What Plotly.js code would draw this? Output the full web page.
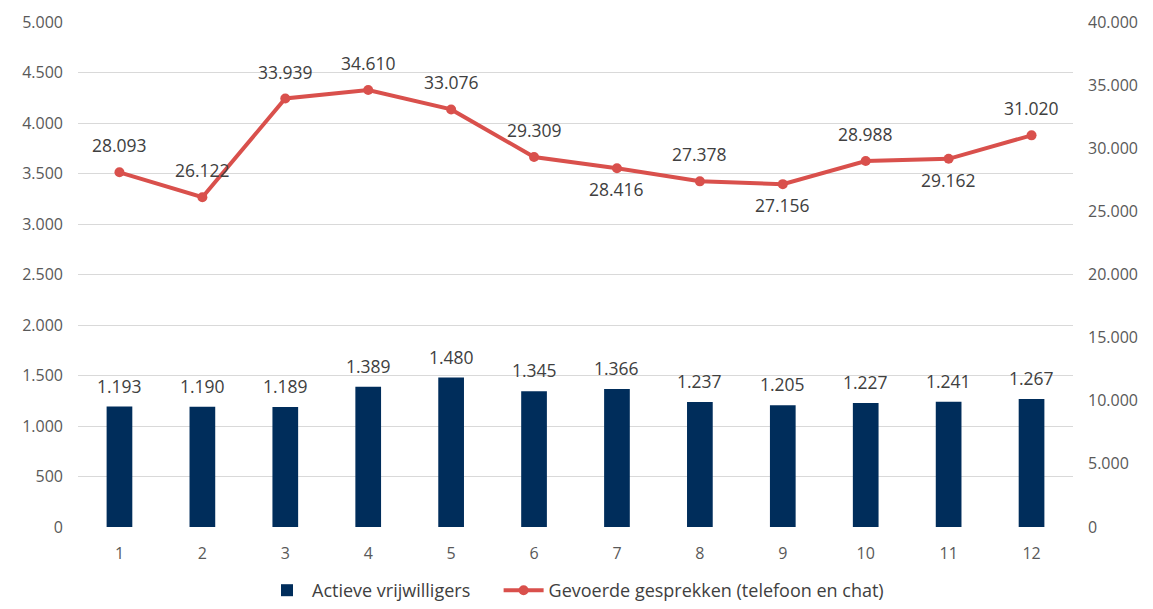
<!DOCTYPE html>
<html>
<head>
<meta charset="utf-8">
<script src="https://cdn.plot.ly/plotly-3.0.1.min.js"></script>
<style>html,body{margin:0;padding:0;background:#fff;}#chart{width:1153px;height:609px;}</style>
</head>
<body>
<div id="chart"></div>
<script>
const categories = ['1','2','3','4','5','6','7','8','9','10','11','12'];
const vrijwilligers = [1193, 1190, 1189, 1389, 1480, 1345, 1366, 1237, 1205, 1227, 1241, 1267];
const gesprekken = [28093, 26122, 33939, 34610, 33076, 29309, 28416, 27378, 27156, 28988, 29162, 31020];
const lineLabelAbove = [true, true, true, true, true, true, false, true, false, true, false, true];

const FONT = 'Open Sans, Noto Sans, sans-serif';
const TXT = '#404040';
const fmt = v => v.toLocaleString('nl-NL');

const traces = [
  {
    type: 'bar', name: 'Actieve vrijwilligers\u00a0\u00a0\u00a0\u00a0\u00a0',
    x: categories, y: vrijwilligers,
    marker: {color: '#002D5B'},
    hoverinfo: 'skip'
  },
  {
    type: 'scatter', mode: 'lines+markers', name: 'Gevoerde gesprekken (telefoon en chat)',
    x: categories, y: gesprekken, yaxis: 'y2',
    line: {color: '#D9504C', width: 4},
    marker: {color: '#D9504C', size: 10},
    cliponaxis: false, hoverinfo: 'skip'
  }
];

// annotations positioned on the category axis by category index
const annotations = [];
categories.forEach((c, i) => {
  annotations.push({x: i, y: vrijwilligers[i], xref: 'x', yref: 'y', text: fmt(vrijwilligers[i]),
    showarrow: false, yanchor: 'middle', yshift: 21,
    font: {family: FONT, size: 17.5, color: TXT}});
  annotations.push({x: i, y: gesprekken[i], xref: 'x', yref: 'y2', text: fmt(gesprekken[i]),
    showarrow: false, yanchor: 'middle', yshift: lineLabelAbove[i] ? 27 : -21,
    font: {family: FONT, size: 17.5, color: TXT}});
});

const layout = {
  width: 1153, height: 609,
  margin: {l: 78, r: 80, t: 22, b: 82, autoexpand: false},
  separators: ',.',
  paper_bgcolor: '#fff', plot_bgcolor: '#fff',
  font: {family: FONT, size: 16, color: '#595959'},
  bargap: 0.69,
  showlegend: true,
  legend: {orientation: 'h', x: 0.5, xanchor: 'center', yref: 'container', y: -0.012, yanchor: 'bottom',
           itemwidth: 40, font: {family: FONT, size: 18, color: TXT}},
  annotations: annotations,
  xaxis: {type: 'category', range: [-0.5, 11.5], showgrid: false, zeroline: false, showline: false, ticks: '',
          ticklabelstandoff: 15, tickfont: {family: FONT, size: 16, color: '#595959'}},
  yaxis: {range: [0, 5000], dtick: 500, tickformat: ',d', showgrid: true, gridcolor: '#D9D9D9', gridwidth: 1,
          zeroline: false, showline: false, ticks: '', ticklabelstandoff: 14,
          tickfont: {family: FONT, size: 16, color: '#595959'}},
  yaxis2: {range: [0, 40000], dtick: 5000, tickformat: ',d', overlaying: 'y', side: 'right',
           showgrid: false, zeroline: false, showline: false, ticks: '', ticklabelstandoff: 14,
           tickfont: {family: FONT, size: 16, color: '#595959'}}
};

Plotly.newPlot('chart', traces, layout, {displayModeBar: false, staticPlot: true});
</script>
</body>
</html>
